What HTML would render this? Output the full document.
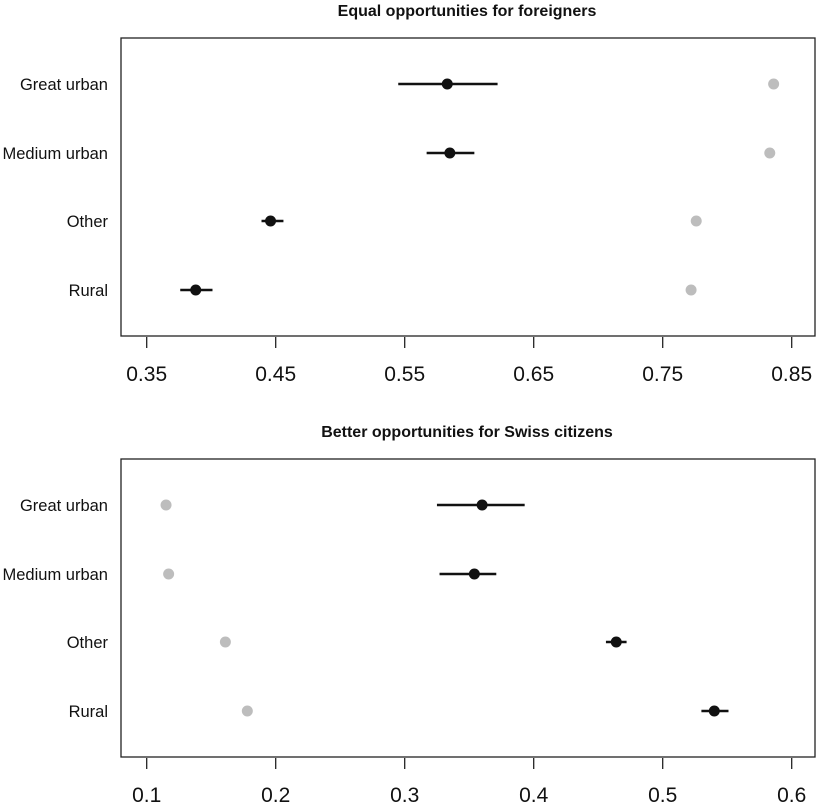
<!DOCTYPE html>
<html><head><meta charset="utf-8"><style>
body{margin:0;background:#fff;}
svg{display:block;font-family:"Liberation Sans",Arial,sans-serif;}
</style></head><body>
<svg id="c" width="817" height="803"></svg>
<script>
const categories = ["Great urban","Medium urban","Other","Rural"];
const topEst = [0.583,0.585,0.446,0.388];
const topLo = [0.545,0.567,0.439,0.376];
const topHi = [0.622,0.604,0.456,0.401];
const topGrey = [0.836,0.833,0.776,0.772];
const topTicks = [0.35,0.45,0.55,0.65,0.75,0.85];
const botEst = [0.360,0.354,0.464,0.540];
const botLo = [0.325,0.327,0.456,0.530];
const botHi = [0.393,0.371,0.472,0.551];
const botGrey = [0.115,0.117,0.161,0.178];
const botTicks = [0.1,0.2,0.3,0.4,0.5,0.6];
const titles = ["Equal opportunities for foreigners","Better opportunities for Swiss citizens"];

const svg = document.getElementById('c');
const NS = 'http://www.w3.org/2000/svg';
function mk(tag, attrs, parent){const e=document.createElementNS(NS,tag);for(const k in attrs)e.setAttribute(k,attrs[k]);(parent||svg).appendChild(e);return e;}

function panel(idx, y0, x0v, x0p, x1v, x1p, est, lo, hi, grey, ticks, tickLabels){
  const g = mk('g',{});
  
  
  const sx = v => x0p + (v - x0v) * (x1p - x0p) / (x1v - x0v);
  const yRows = [46,115,183,252];
  const H = 298;
  const t = mk('text',{x:467,y:y0-22,'text-anchor':'middle','font-size':16,'font-weight':'bold',fill:'#111'},g);
  t.textContent = titles[idx];
  
  
  const box = mk('rect',{x:121,y:y0,width:694,height:H,fill:'none',stroke:'#222','stroke-width':1.3},g);
  
  
  categories.forEach((c,i)=>{
    const y = y0 + yRows[i];
    const lab = mk('text',{x:108,y:y+6,'text-anchor':'end','font-size':16.5,fill:'#111'},g);
    lab.textContent = c;
    
    
    const gd = mk('circle',{cx:sx(grey[i]),cy:y,r:5.5,fill:'#bdbdbd'},g);
    
    
    const ln = mk('line',{x1:sx(lo[i]),x2:sx(hi[i]),y1:y,y2:y,stroke:'#111','stroke-width':2.5},g);
    
    
    const d = mk('circle',{cx:sx(est[i]),cy:y,r:5.5,fill:'#111'},g);
    
    
  });
  const axY = y0 + H;
  ticks.forEach((v,i)=>{
    const tk = mk('line',{x1:sx(v),x2:sx(v),y1:axY+1,y2:axY+12,stroke:'#222','stroke-width':1.3},g);
    
    
    const tl = mk('text',{x:sx(v),y:axY+45,'text-anchor':'middle','font-size':21,fill:'#111'},g);
    tl.textContent = tickLabels[i];
    
    
  });
}
panel(0, 38, 0.35, 146.7, 0.85, 791.7, topEst, topLo, topHi, topGrey, topTicks, topTicks.map(v=>v.toFixed(2)));
panel(1, 459, 0.1, 146.7, 0.6, 791.7, botEst, botLo, botHi, botGrey, botTicks, botTicks.map(v=>v.toFixed(1)));
</script>
</body></html>
